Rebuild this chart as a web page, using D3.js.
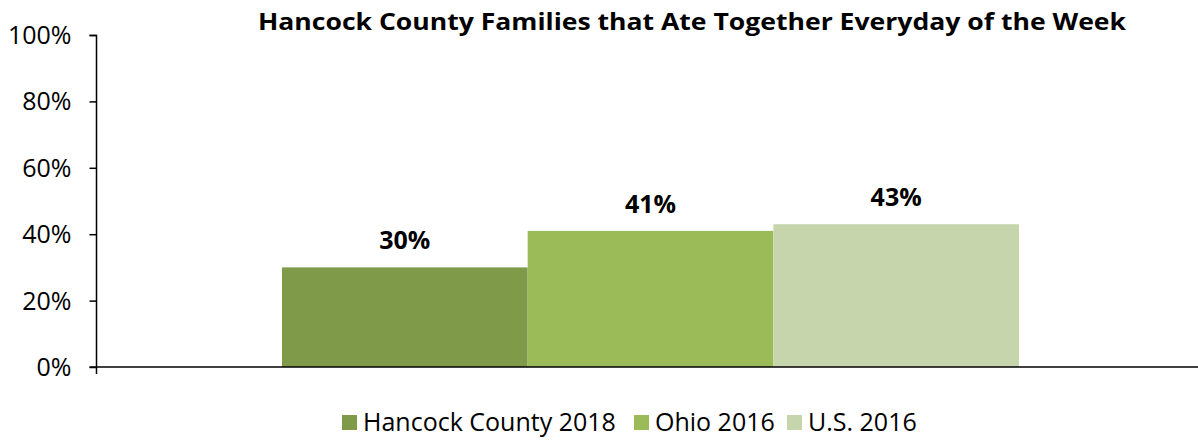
<!DOCTYPE html>
<html><head><meta charset="utf-8">
<script src="https://cdn.jsdelivr.net/npm/d3@7"></script>
<style>body{margin:0;background:#fff}svg{display:block}text{font-family:"Open Sans","Noto Sans",sans-serif}</style>
</head><body><svg id="c" width="1198" height="442"></svg>
<script>
const series = ["Hancock County 2018","Ohio 2016","U.S. 2016"];
const values = [0.30, 0.41, 0.43];
const labels = ["30%","41%","43%"];
const colors = ["#7f9b4a","#9bbb59","#c6d5ab"];
const yTicks = [0,0.2,0.4,0.6,0.8,1.0];
const title = "Hancock County Families that Ate Together Everyday of the Week";

const svg = d3.select("#c");
const y = d3.scaleLinear().domain([0,1]).range([367,35]);
const x = d3.scaleBand().domain(series).range([282,1019]).paddingInner(0).paddingOuter(0);

svg.append("text").attr("x",692).attr("y",30).attr("text-anchor","middle")
  .style("font-weight","bold").style("font-size","24px").attr("textLength",868).attr("lengthAdjust","spacingAndGlyphs").text(title);

svg.selectAll("rect.bar").data(series).join("rect").attr("class","bar")
  .attr("x",d=>x(d)).attr("width",x.bandwidth())
  .attr("y",(d,i)=>y(values[i])).attr("height",(d,i)=>y(0)-y(values[i]))
  .attr("fill",(d,i)=>colors[i]);

svg.selectAll("text.lbl").data(series).join("text").attr("class","lbl")
  .attr("x",d=>x(d)+x.bandwidth()/2).attr("y",(d,i)=>y(values[i])-18)
  .attr("text-anchor","middle").style("font-weight","bold").style("font-size","25px")
  .text((d,i)=>labels[i]);

const ya = d3.axisLeft(y).tickValues(yTicks).tickFormat(d3.format(".0%")).tickSize(7).tickPadding(18);
const g = svg.append("g").attr("transform","translate(96.5,0)").call(ya);
g.attr("font-size",null).attr("font-family",null);
g.select(".domain").attr("stroke","#000").attr("stroke-width",1.5).attr("d","M-7,35.5H0V367");
g.selectAll(".tick line").attr("stroke","#000").attr("stroke-width",1.5);
g.selectAll(".tick text").style("font-size","25px").attr("fill","#000").attr("dy","0.34em");

svg.append("line").attr("x1",89.5).attr("x2",1198).attr("y1",367).attr("y2",367).attr("stroke","#000").attr("stroke-width",1.5);
svg.append("line").attr("x1",96.5).attr("x2",96.5).attr("y1",367).attr("y2",374).attr("stroke","#000").attr("stroke-width",1.5);

const legX = [342,634,787];
const lg = svg.selectAll("g.leg").data(series).join("g").attr("class","leg")
  .attr("transform",(d,i)=>`translate(${legX[i]},0)`);
lg.append("rect").attr("x",0).attr("y",415).attr("width",15).attr("height",15).attr("fill",(d,i)=>colors[i]);
lg.append("text").attr("x",21).attr("y",431).style("font-size","25px").text(d=>d);
</script></body></html>
